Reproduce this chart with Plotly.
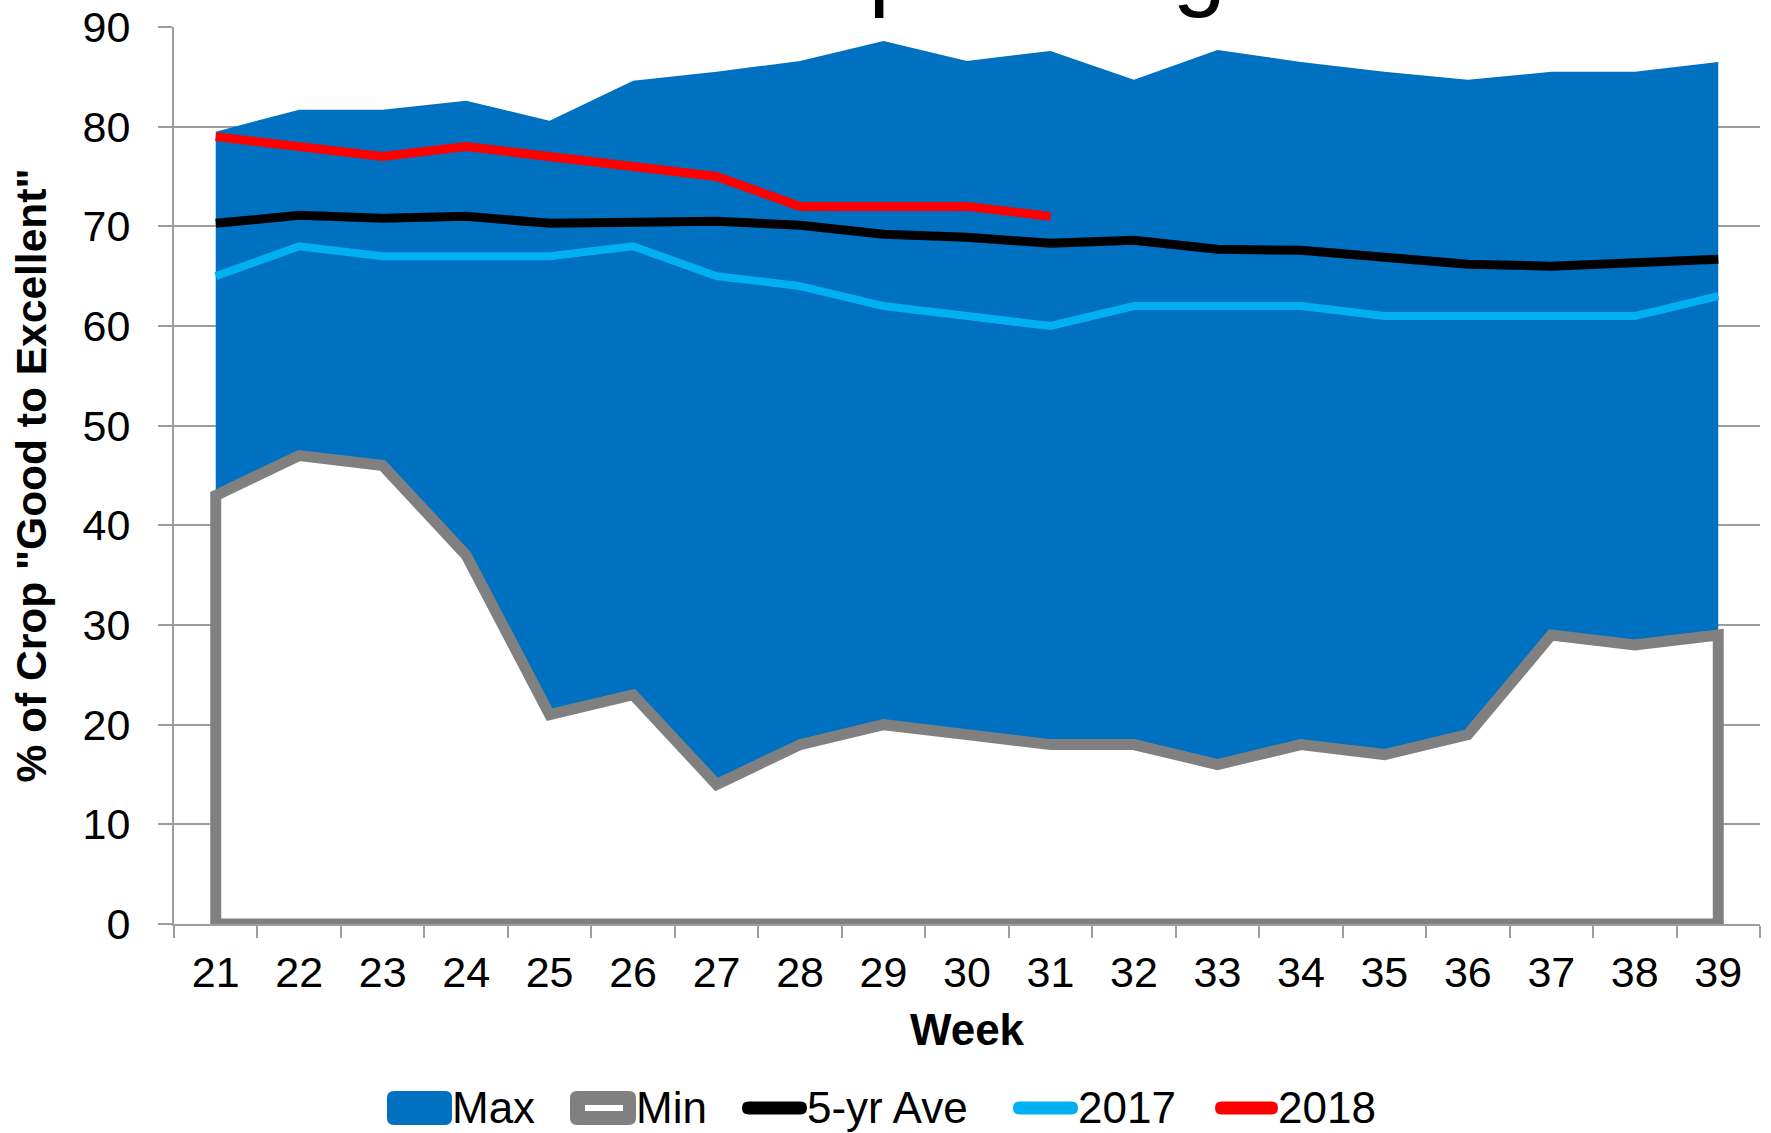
import plotly.graph_objects as go

# ---- data ----
weeks = ["21", "22", "23", "24", "25", "26", "27", "28", "29", "30",
         "31", "32", "33", "34", "35", "36", "37", "38", "39"]
max_vals = [79.5, 81.7, 81.7, 82.6, 80.6, 84.6, 85.5, 86.6, 88.6, 86.6,
            87.6, 84.7, 87.7, 86.5, 85.5, 84.7, 85.5, 85.5, 86.5]
min_vals = [43, 47, 46, 37, 21, 23, 14, 18, 20, 19,
            18, 18, 16, 18, 17, 19, 29, 28, 29]
ave5_vals = [70.3, 71.1, 70.8, 71.0, 70.3, 70.5, 70.5, 70.1, 69.2, 68.9,
             68.3, 68.6, 67.7, 67.6, 66.8, 66.2, 66.0, 66.3, 66.7]
y2017_vals = [65, 68, 67, 67, 67, 68, 65, 64, 62, 61,
              60, 62, 62, 62, 61, 61, 61, 61, 63]
y2018_vals = [79, 78, 77, 78, 77, 76, 75, 72, 72, 72, 71]
y_ticks = [0, 10, 20, 30, 40, 50, 60, 70, 80, 90]
series_names = ["Max", "Min", "5-yr Ave", "2017", "2018"]
series_colors = ["#0070C0", "#808080", "#000000", "#00B0F0", "#FF0000"]
title_text = "Corn Crop Ratings"

FONT = "Arial, Liberation Sans, sans-serif"
GRID = "#9d9d9d"

W, H = 1771, 1133
ML, MR, MT, MB = 174, 11, 27, 209
PW, PH = W - ML - MR, H - MT - MB


def px(xp):
    return (xp - ML) / PW


def py(yp):
    return (H - MB - yp) / PH


fig = go.Figure()

fig.add_trace(go.Scatter(
    x=weeks, y=max_vals, name=series_names[0], mode="lines",
    fill="tozeroy", fillcolor=series_colors[0],
    line=dict(color=series_colors[0], width=0),
))

# Min: white area under the minimum curve, outlined in grey
min_x = [weeks[0]] + weeks + [weeks[-1], weeks[0]]
min_y = [0] + min_vals + [0, 0]
fig.add_trace(go.Scatter(
    x=min_x, y=min_y, name=series_names[1], mode="lines",
    fill="toself", fillcolor="#FFFFFF",
    line=dict(color=series_colors[1], width=11),
))

fig.add_trace(go.Scatter(
    x=weeks, y=ave5_vals, name=series_names[2], mode="lines",
    line=dict(color=series_colors[2], width=9),
))
fig.add_trace(go.Scatter(
    x=weeks, y=y2017_vals, name=series_names[3], mode="lines",
    line=dict(color=series_colors[3], width=8),
))
fig.add_trace(go.Scatter(
    x=weeks[:len(y2018_vals)], y=y2018_vals, name=series_names[4], mode="lines",
    line=dict(color=series_colors[4], width=9),
))


# ---- legend drawn below the chart (symbols + labels) ----
def rounded_rect(x0, y0, x1, y1, r):
    X = lambda v: f"{px(v):.6f}"
    Y = lambda v: f"{py(v):.6f}"
    pts = [
        f"M{X(x0 + r)},{Y(y0)}",
        f"L{X(x1 - r)},{Y(y0)}",
        f"Q{X(x1)},{Y(y0)} {X(x1)},{Y(y0 + r)}",
        f"L{X(x1)},{Y(y1 - r)}",
        f"Q{X(x1)},{Y(y1)} {X(x1 - r)},{Y(y1)}",
        f"L{X(x0 + r)},{Y(y1)}",
        f"Q{X(x0)},{Y(y1)} {X(x0)},{Y(y1 - r)}",
        f"L{X(x0)},{Y(y0 + r)}",
        f"Q{X(x0)},{Y(y0)} {X(x0 + r)},{Y(y0)}",
    ]
    return " ".join(pts) + " Z"


shapes = []
annotations = []
LY0, LY1 = 1091, 1125          # legend box top / bottom
LYC = (LY0 + LY1) / 2
# (symbol left, symbol right, kind)
leg_items = [(387, 452, "box"), (570, 636, "boxhollow"), (742, 807, "line"),
             (1013, 1078, "line"), (1215, 1278, "line")]
for (x0, x1, kind), name, col in zip(leg_items, series_names, series_colors):
    if kind in ("box", "boxhollow"):
        shapes.append(dict(type="path", xref="paper", yref="paper", layer="above",
                           path=rounded_rect(x0, LY0, x1, LY1, 7),
                           fillcolor=col, line=dict(width=0)))
        if kind == "boxhollow":
            shapes.append(dict(type="rect", xref="paper", yref="paper", layer="above",
                               x0=px(x0 + 15), x1=px(x1 - 13), y0=py(LYC - 3), y1=py(LYC + 3),
                               fillcolor="white", line=dict(width=0)))
    else:
        shapes.append(dict(type="path", xref="paper", yref="paper", layer="above",
                           path=rounded_rect(x0, LYC - 6.5, x1, LYC + 6.5, 6.5),
                           fillcolor=col, line=dict(width=0)))
    annotations.append(dict(text=name, xref="paper", yref="paper",
                            x=px(x1 - 2), xanchor="left", y=py(1107), yanchor="middle",
                            showarrow=False, font=dict(size=44, family=FONT, color="black")))

# title, partially outside the top of the picture (as in the reference)
annotations.append(dict(
    text=title_text, xref="paper", yref="paper",
    x=0.443, xanchor="center", y=1.0075, yanchor="bottom",
    showarrow=False, font=dict(size=96, family=FONT, color="black"),
))

fig.update_layout(
    width=W, height=H,
    margin=dict(l=ML, r=MR, t=MT, b=MB, pad=0),
    paper_bgcolor="white", plot_bgcolor="white",
    font=dict(family=FONT, size=43, color="black"),
    showlegend=False,
    shapes=shapes,
    annotations=annotations,
)

fig.update_xaxes(
    type="category", tickson="boundaries", range=[-0.5, len(weeks) - 0.5],
    ticks="outside", ticklen=12, tickcolor=GRID, tickwidth=2,
    showline=True, linecolor=GRID, linewidth=2,
    showgrid=False, zeroline=False, automargin=False,
    tickfont=dict(size=43), ticklabelstandoff=9,
    title=dict(text="<b>Week</b>", font=dict(size=44), standoff=20),
)
fig.update_yaxes(
    range=[0, 90], tickvals=y_ticks,
    ticks="outside", ticklen=14, tickcolor=GRID, tickwidth=2,
    showline=True, linecolor=GRID, linewidth=2,
    showgrid=True, gridcolor=GRID, gridwidth=2,
    zeroline=False, automargin=False,
    tickfont=dict(size=43), ticklabelstandoff=19,
    title=dict(text='<b>% of Crop "Good to Excellent"</b>', font=dict(size=42.5), standoff=23),
)

fig.write_html("out.html", config={"displayModeBar": False},
               post_script="document.body.style.margin='0';")
